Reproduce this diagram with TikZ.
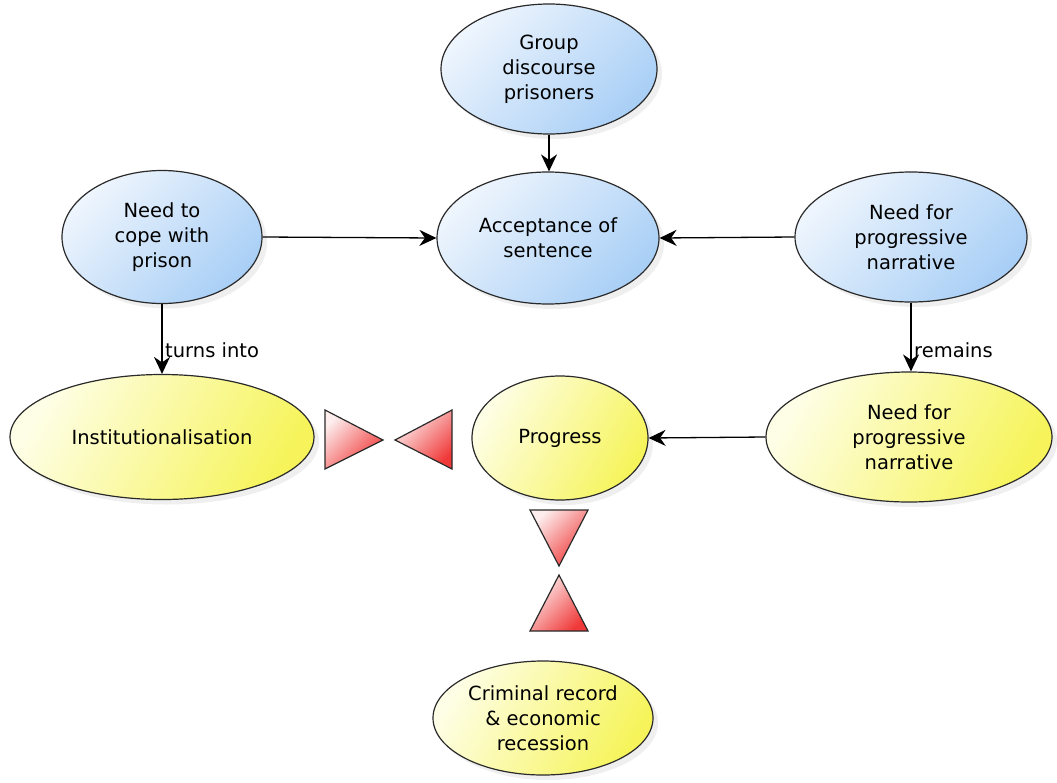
\documentclass[tikz,border=0pt]{standalone}
\usepackage{fontspec}
\setmainfont{DejaVu Sans}
\usetikzlibrary{shapes.geometric,arrows.meta,shadows}
\definecolor{blueA}{HTML}{EEF5FD}
\definecolor{blueB}{HTML}{A9CFF6}
\definecolor{yelA}{HTML}{FEFEE6}
\definecolor{yelB}{HTML}{F6F45A}
\definecolor{redA}{HTML}{FDEDED}
\definecolor{redB}{HTML}{F03A3A}
\definecolor{edge}{HTML}{2A2A2A}
\tikzset{
  ell/.style={ellipse, draw=edge, line width=1.2pt, inner sep=0pt, align=center,
    font=\fontsize{19.5}{25}\selectfont,
    drop shadow={opacity=0.12, shadow xshift=5pt, shadow yshift=-5pt}},
  bluenode/.style={ell, top color=blueA, bottom color=blueB, shading angle=45},
  yelnode/.style={ell, top color=yelA, bottom color=yelB, shading angle=60},
  tri/.style={draw=edge, line width=1.2pt, line join=miter, top color=redA, bottom color=redB, shading angle=45},
  arr/.style={draw=black, line width=1.3pt, -{Stealth[length=17pt,width=16pt]}},
  lbl/.style={anchor=west, font=\fontsize{19.5}{22}\selectfont, inner sep=1pt}
}
\begin{document}
\begin{tikzpicture}[x=1pt,y=-1pt]
\useasboundingbox (0,0) rectangle (1057,782);
\fill[white] (0,0) rectangle (1057,782);

\node[bluenode, minimum width=216pt, minimum height=130pt] (group) at (549,69) {Group\\discourse\\prisoners};
\node[bluenode, minimum width=222pt, minimum height=132pt] (accept) at (548,238) {Acceptance of\\sentence};
\node[bluenode, minimum width=200pt, minimum height=133pt] (cope) at (162,237) {Need to\\cope with\\prison};
\node[bluenode, minimum width=232pt, minimum height=130pt] (needb) at (911,237) {Need for\\progressive\\narrative};

\node[yelnode, minimum width=304pt, minimum height=125pt] (inst) at (162,437) {Institutionalisation};
\node[yelnode, minimum width=176pt, minimum height=124pt] (progress) at (560,438) {Progress};
\node[yelnode, minimum width=286pt, minimum height=130pt] (needy) at (909,437) {Need for\\progressive\\narrative};
\node[yelnode, minimum width=220pt, minimum height=114pt] (crim) at (543,718) {Criminal record\\\& economic\\recession};

\draw[arr] (group.south) -- (group.south |- accept.north);
\draw[arr] (cope.east) -- (accept.west);
\draw[arr] (needb.west) -- (accept.east);
\draw[arr] (cope.south) -- (inst.north);
\draw[arr] (needb.south) -- (needb.south |- needy.north);
\draw[arr] (needy.west) -- (progress.east);

\node[lbl] (turns) at (164,350) {turns into};
\node[lbl] (remains) at (913,350) {remains};

\draw[tri] (325,410) -- (383,440) -- (325,469) -- cycle;
\draw[tri] (452,410) -- (395,440) -- (452,469) -- cycle;
\draw[tri] (530,510) -- (588,510) -- (559,566) -- cycle;
\draw[tri] (559,575) -- (588,631) -- (530,631) -- cycle;
\end{tikzpicture}
\end{document}
